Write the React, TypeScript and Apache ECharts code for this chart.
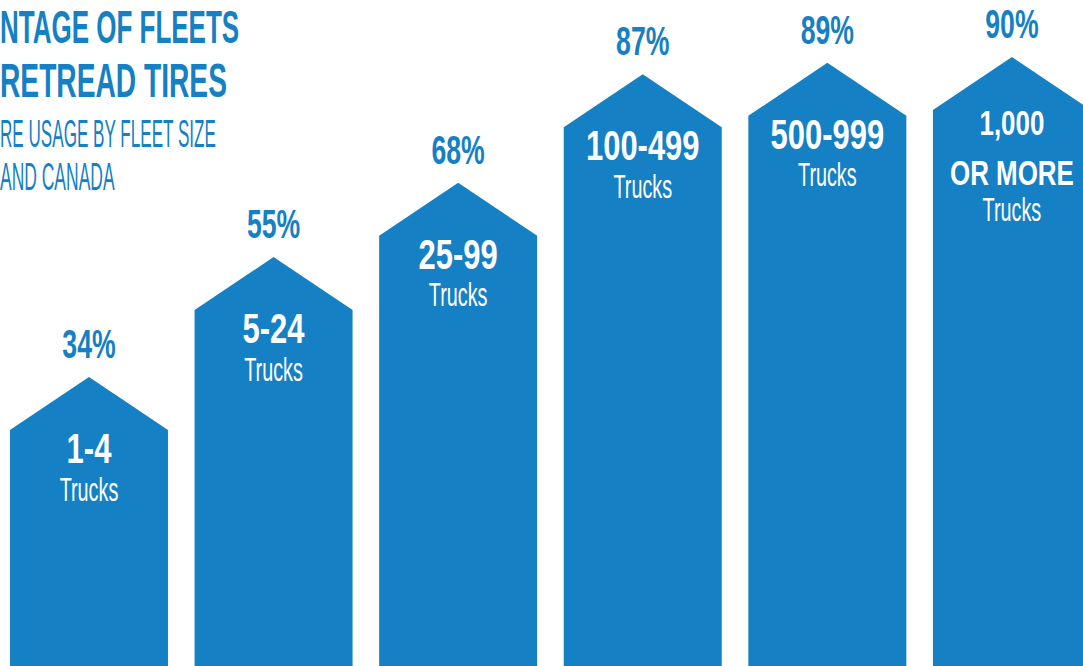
import React, { useEffect, useRef } from "react";
import * as echarts from "echarts";

const categories = ["1-4", "5-24", "25-99", "100-499", "500-999", "1,000\nOR MORE"];
const unitLabel = "Trucks";
const values = [34, 55, 68, 87, 89, 90];
const titleLines = ["NTAGE OF FLEETS", "RETREAD TIRES"];
const subtitleLines = ["RE USAGE BY FLEET SIZE", "AND CANADA"];

const BLUE = "#1580C4";
const FONT = "'Liberation Sans', Arial, sans-serif";
const Y_MIN = -16.6;
const Y_MAX = 100;

export default function App() {
  const ref = useRef<HTMLDivElement>(null);

  useEffect(() => {
    if (!ref.current) return;
    const chart = echarts.init(ref.current, undefined, { renderer: "svg" });

    const renderItem = (params: any, api: any) => {
      const idx = api.value(0);
      const v = api.value(1);
      const top = api.coord([idx, v]);
      const cs = params.coordSys;
      const bottomY = cs.y + cs.height;
      const band = api.size([1, 0])[0];
      const w = band * 0.856;
      const cx = top[0];
      const ay = top[1];
      const rise = 53;
      const children: any[] = [
        {
          type: "polygon",
          shape: {
            points: [
              [cx - w / 2, bottomY],
              [cx - w / 2, ay + rise],
              [cx, ay],
              [cx + w / 2, ay + rise],
              [cx + w / 2, bottomY],
            ],
          },
          style: { fill: BLUE },
        },
        {
          type: "text",
          x: cx,
          y: ay - 33,
          scaleX: 0.65,
          style: {
            text: v + "%",
            fill: BLUE,
            fontFamily: FONT,
            fontWeight: "bold",
            fontSize: 41,
            align: "center",
            verticalAlign: "middle",
          },
        },
      ];
      const lines = String(categories[idx]).split("\n");
      const multi = lines.length > 1;
      const fs = multi ? 36 : 43;
      const first = multi ? 66 : 71;
      const step = 50;
      lines.forEach((ln, k) => {
        children.push({
          type: "text",
          x: cx,
          y: ay + first + k * step,
          scaleX: 0.72,
          style: {
            text: ln,
            fill: "#ffffff",
            fontFamily: FONT,
            fontWeight: "bold",
            fontSize: fs,
            align: "center",
            verticalAlign: "middle",
          },
        });
      });
      const lastY = ay + first + (lines.length - 1) * step;
      children.push({
        type: "text",
        x: cx,
        y: lastY + (multi ? 36 : 41),
        scaleX: 0.6,
        style: {
          text: unitLabel,
          fill: "#ffffff",
          fontFamily: FONT,
          fontWeight: "normal",
          fontSize: 33,
          align: "center",
          verticalAlign: "middle",
        },
      });
      return { type: "group", children };
    };

    const titleEl = (text: string, y: number, size: number, weight: string, sx: number) => ({
      type: "text",
      x: 0,
      y,
      scaleX: sx,
      silent: true,
      style: {
        text,
        fill: BLUE,
        fontFamily: FONT,
        fontWeight: weight,
        fontSize: size,
        align: "left",
        verticalAlign: "middle",
      },
    });

    chart.setOption({
      animation: false,
      backgroundColor: "#ffffff",
      grid: { left: 0, right: 0, top: 0, bottom: 0 },
      xAxis: {
        type: "value",
        min: -0.482,
        max: 5.385,
        show: false,
      },
      yAxis: {
        type: "value",
        min: Y_MIN,
        max: Y_MAX,
        show: false,
      },
      graphic: [
        titleEl(titleLines[0], 27, 47, "bold", 0.553),
        titleEl(titleLines[1], 80, 48, "bold", 0.587),
        titleEl(subtitleLines[0], 133, 38, "normal", 0.45),
        titleEl(subtitleLines[1], 177, 38, "normal", 0.46),
      ],
      series: [
        {
          type: "custom",
          silent: true,
          renderItem,
          data: values.map((v, i) => [i, v]),
        },
      ],
    });

    return () => chart.dispose();
  }, []);

  return (
    <div
      ref={ref}
      style={{ position: "fixed", left: 0, top: 0, width: 1083, height: 666 }}
    />
  );
}
